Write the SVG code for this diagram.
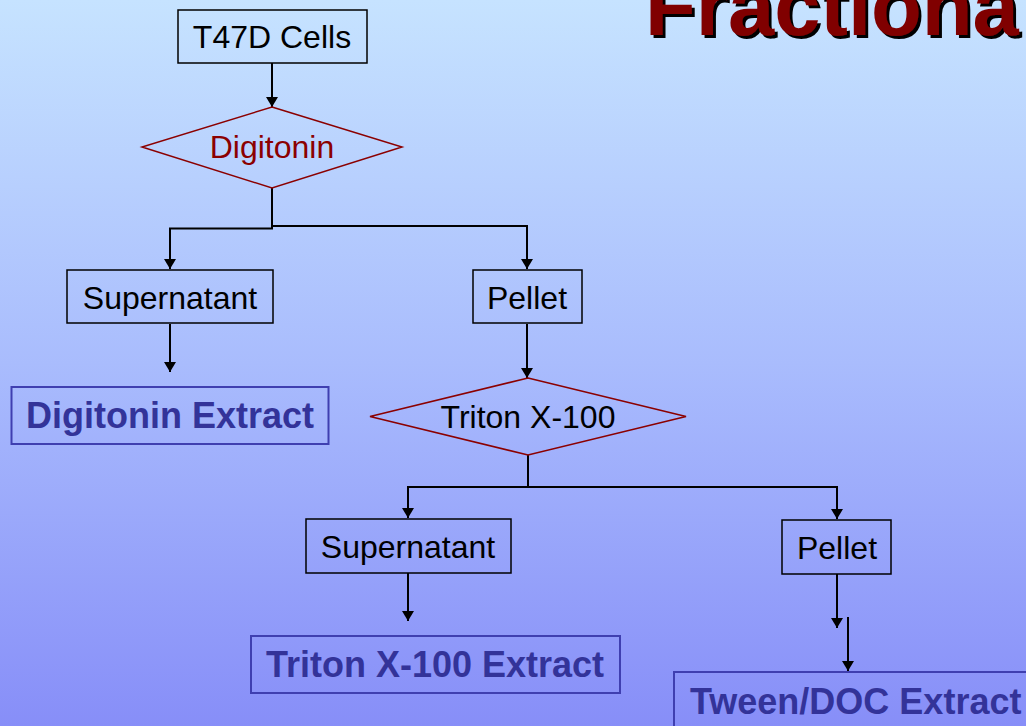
<svg xmlns="http://www.w3.org/2000/svg" width="1026" height="726" viewBox="0 0 1026 726">
<defs>
<linearGradient id="bg" x1="0" y1="0" x2="0" y2="1">
<stop offset="0" stop-color="#c6e3ff"/>
<stop offset="0.5" stop-color="#a9bcfd"/>
<stop offset="1" stop-color="#878ef8"/>
</linearGradient>
<filter id="shadow" x="-5%" y="-20%" width="115%" height="150%">
<feOffset in="SourceAlpha" dx="3" dy="3" result="off"/>
<feFlood flood-color="#000"/>
<feComposite in2="off" operator="in" result="sh"/>
<feMerge><feMergeNode in="sh"/><feMergeNode in="SourceGraphic"/></feMerge>
</filter>
<marker id="ah" markerWidth="11" markerHeight="12" refX="10" refY="6" orient="auto" markerUnits="userSpaceOnUse">
<path d="M0,0 L10,6 L0,12 Z" fill="#000"/>
</marker>
<style>
.box{fill:none;stroke:#000;stroke-width:1.5}
.dia{fill:none;stroke:#8b0000;stroke-width:1.5}
.ext{fill:none;stroke:#3f3fb0;stroke-width:2}
.lbl{font-family:"Liberation Sans",Arial,sans-serif;font-size:32px;fill:#000;text-anchor:middle}
.red{fill:#8b0000}
.extt{font-family:"Liberation Sans",Arial,sans-serif;font-size:36px;font-weight:bold;fill:#333399;text-anchor:middle}
.con{fill:none;stroke:#000;stroke-width:2}
.title{font-family:"Liberation Sans",Arial,sans-serif;font-size:83px;font-weight:bold;fill:#800000}
</style>
</defs>
<rect x="0" y="0" width="1026" height="726" fill="url(#bg)"/>
<g id="title">
<text class="title" x="645" y="35" filter="url(#shadow)">Fractiona</text>
</g>
<g id="connectors">
<line class="con" x1="272" y1="63" x2="272" y2="107" marker-end="url(#ah)"/>
<polyline class="con" points="272,188 272,228.5 170,228.5 170,269" marker-end="url(#ah)"/>
<polyline class="con" points="272,226 527,226 527,269" marker-end="url(#ah)"/>
<line class="con" x1="170" y1="324" x2="170" y2="372" marker-end="url(#ah)"/>
<line class="con" x1="527" y1="324" x2="527" y2="378" marker-end="url(#ah)"/>
<polyline class="con" points="528,455 528,487 408,487 408,518" marker-end="url(#ah)"/>
<polyline class="con" points="528,487 837,487 837,519" marker-end="url(#ah)"/>
<line class="con" x1="408" y1="573" x2="408" y2="621" marker-end="url(#ah)"/>
<line class="con" x1="837" y1="574" x2="837" y2="628" marker-end="url(#ah)"/>
<line class="con" x1="848" y1="617" x2="848" y2="671" marker-end="url(#ah)"/>
</g>
<g id="t47d">
<rect class="box" x="178" y="10" width="189" height="53"/>
<text class="lbl" x="272" y="48">T47D Cells</text>
</g>
<g id="digitonin">
<polygon class="dia" points="272,107 402,147 272,188 142,147"/>
<text class="lbl red" x="272" y="158">Digitonin</text>
</g>
<g id="supernatant1">
<rect class="box" x="67" y="270" width="206" height="53"/>
<text class="lbl" x="170" y="309">Supernatant</text>
</g>
<g id="pellet1">
<rect class="box" x="473" y="270" width="109" height="53"/>
<text class="lbl" x="527" y="309">Pellet</text>
</g>
<g id="digitoninExtract">
<rect class="ext" x="11.5" y="387" width="317" height="57"/>
<text class="extt" x="170" y="428">Digitonin Extract</text>
</g>
<g id="triton">
<polygon class="dia" points="528,378 686,416.5 528,455 370,416.5"/>
<text class="lbl" x="528" y="428">Triton X-100</text>
</g>
<g id="supernatant2">
<rect class="box" x="306" y="519" width="205" height="54"/>
<text class="lbl" x="408" y="558">Supernatant</text>
</g>
<g id="pellet2">
<rect class="box" x="782" y="520" width="109" height="54"/>
<text class="lbl" x="837" y="559">Pellet</text>
</g>
<g id="tritonExtract">
<rect class="ext" x="251" y="636" width="369" height="57"/>
<text class="extt" x="435" y="677">Triton X-100 Extract</text>
</g>
<g id="tweenExtract">
<rect class="ext" x="674" y="672" width="360" height="60"/>
<text class="extt" x="690" y="714" style="text-anchor:start">Tween/DOC Extract</text>
</g>
</svg>
